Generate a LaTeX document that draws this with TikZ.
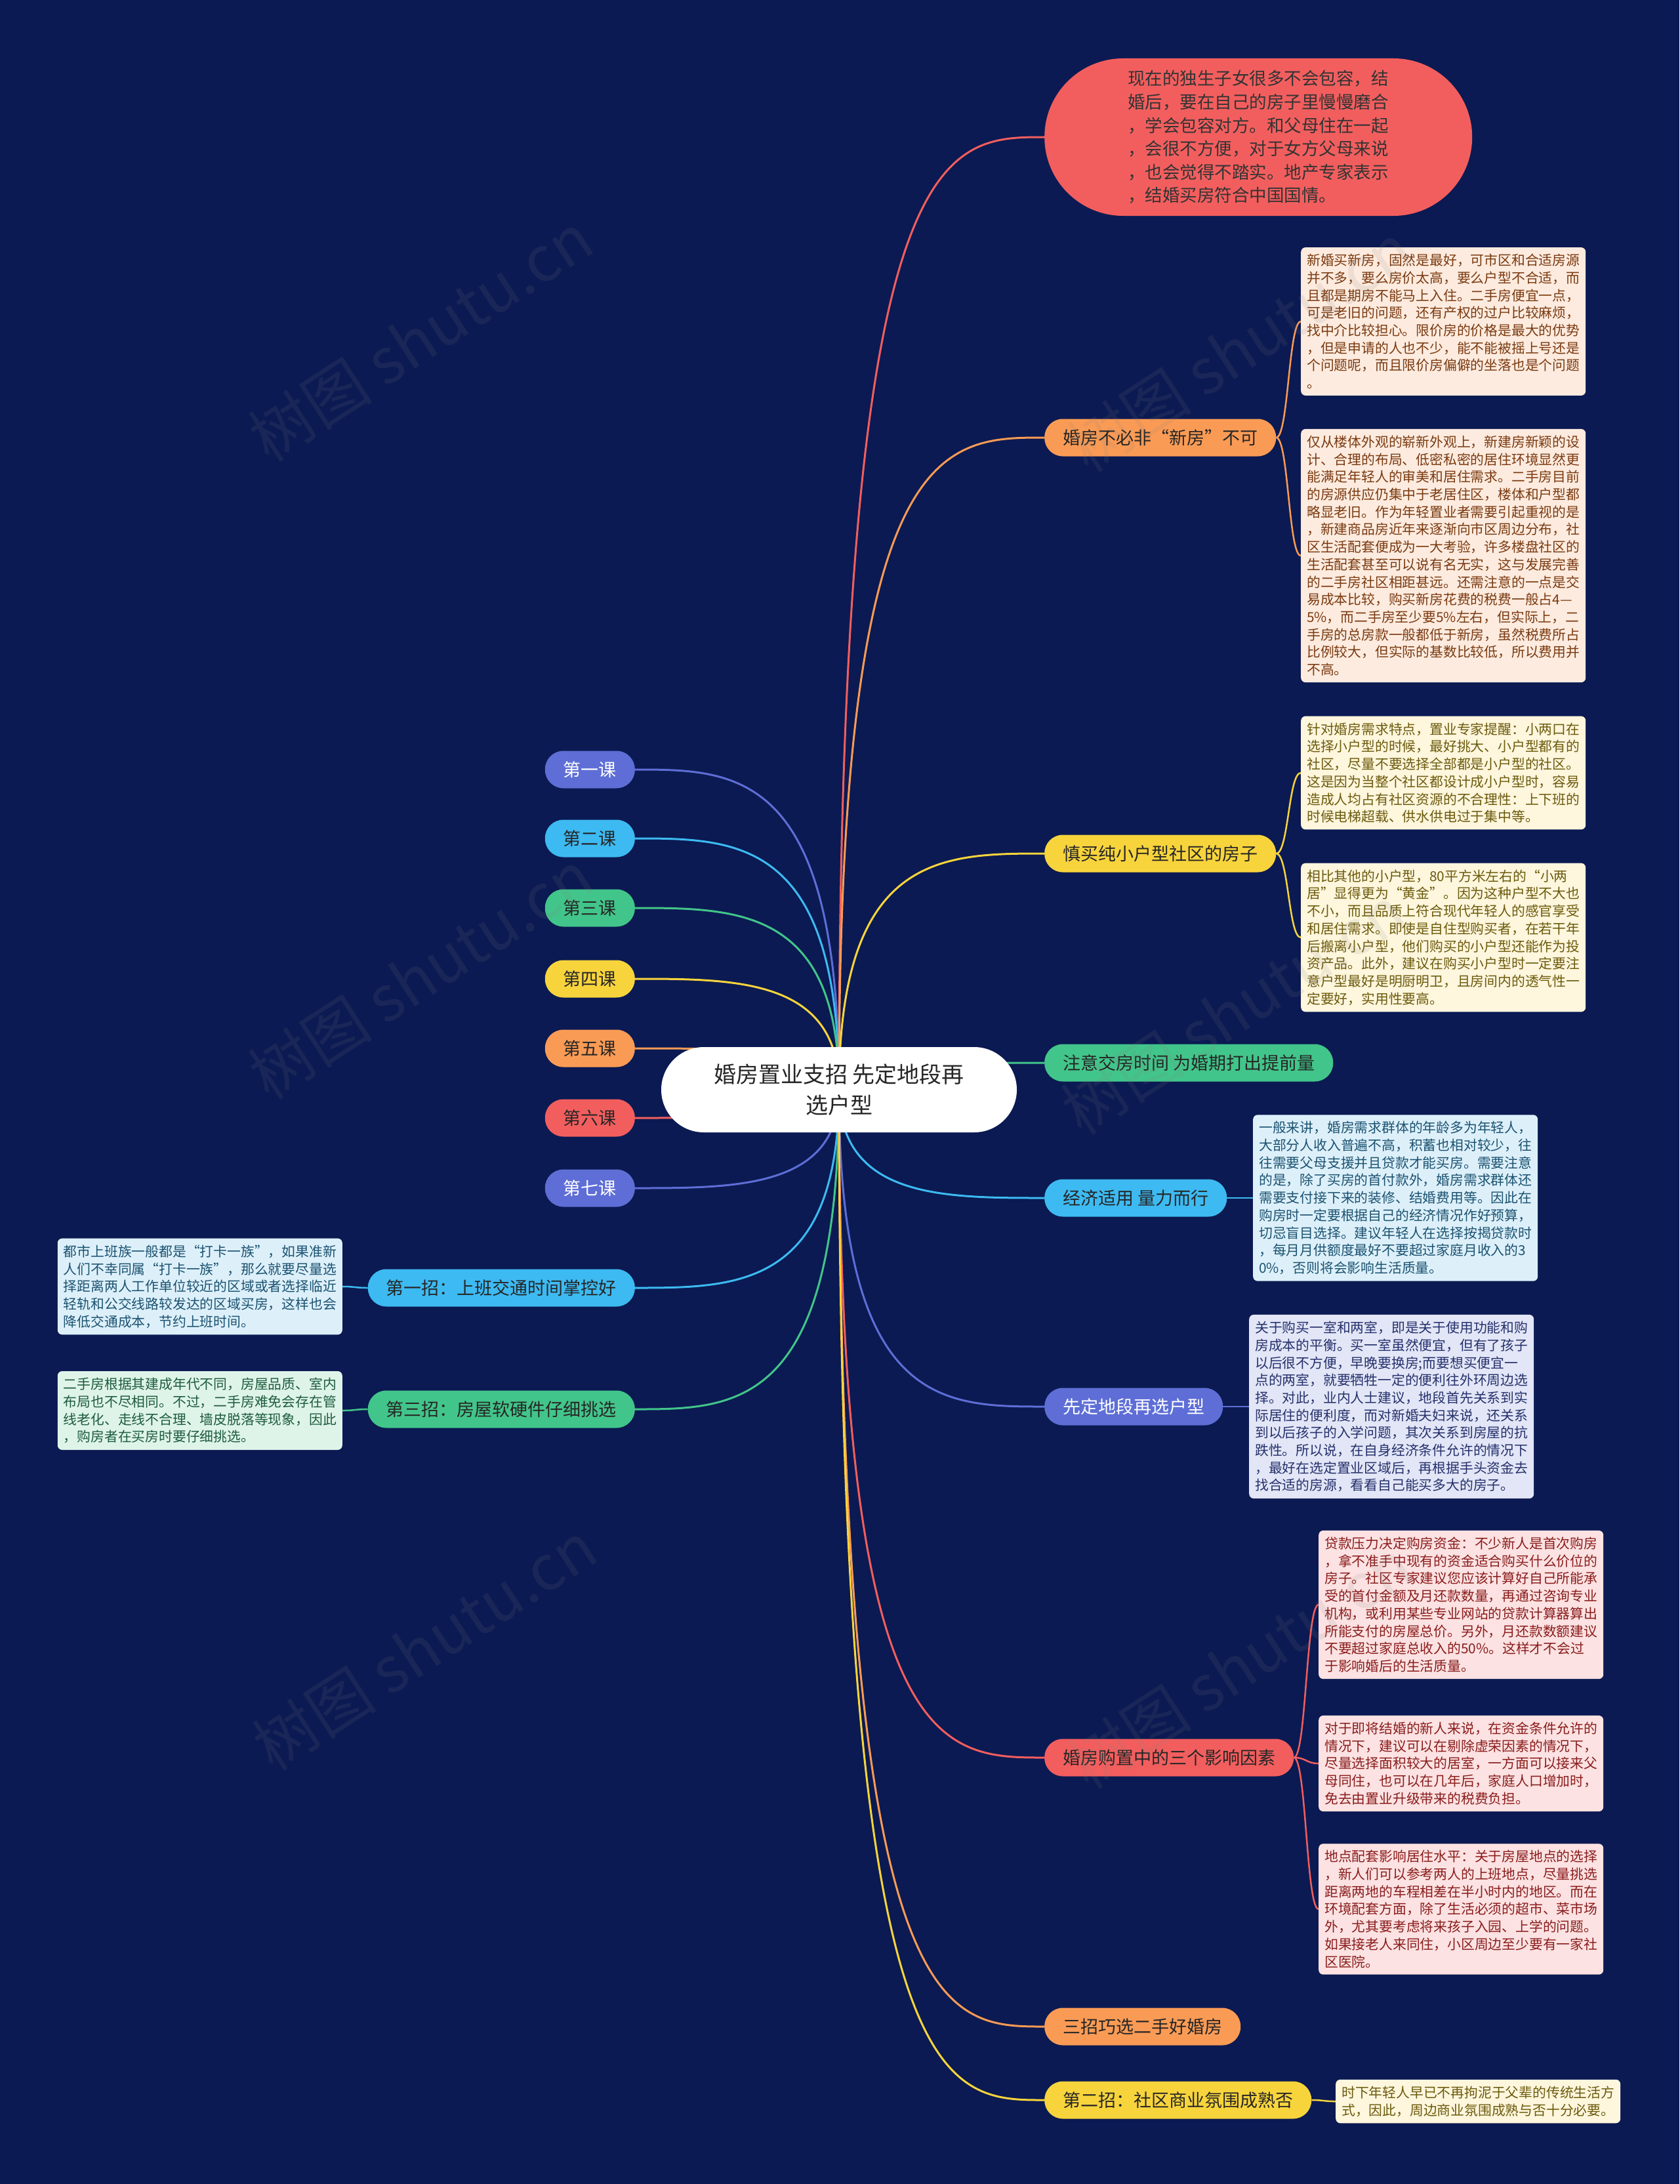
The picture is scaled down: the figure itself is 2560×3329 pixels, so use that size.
\documentclass[tikz,border=0pt]{standalone}
\usepackage{fontspec}
\setmainfont{Noto Sans CJK SC}
\usetikzlibrary{calc}
\pgfdeclarelayer{back}\pgfdeclarelayer{bg}\pgfdeclarelayer{top}
\pgfsetlayers{back,bg,main,top}
\newcommand\fsz[2]{\fontsize{#1pt}{#2pt}\selectfont}
\definecolor{bgc}{HTML}{0B1A52}
\definecolor{corange}{HTML}{FA9B55}
\definecolor{cyellow}{HTML}{F8D43C}
\definecolor{cgreen}{HTML}{42C58A}
\definecolor{ccyan}{HTML}{3DBAF2}
\definecolor{cblue}{HTML}{5E6ED6}
\definecolor{cred}{HTML}{F25E5E}
\definecolor{lorange}{HTML}{FDEBDF}\definecolor{torange}{HTML}{7A3A10}
\definecolor{lyellow}{HTML}{FEF6DD}\definecolor{tyellow}{HTML}{6B5A0C}
\definecolor{lcyan}{HTML}{DDF0FA}\definecolor{tcyan}{HTML}{1B5270}
\definecolor{lblue}{HTML}{E2E6F6}\definecolor{tblue}{HTML}{25306C}
\definecolor{lred}{HTML}{FCE2E2}\definecolor{tred}{HTML}{8A1C1C}
\definecolor{lgreen}{HTML}{DFF4E9}\definecolor{tgreen}{HTML}{1D5C3D}
\begin{document}
\begin{tikzpicture}[x=1pt,y=-1pt,
  pill/.style={rounded corners=28pt, minimum height=57pt, inner xsep=28pt, inner ysep=0pt, font=\fsz{27}{30}, text=black!85},
  leafbox/.style={rounded corners=7pt, inner xsep=9pt, inner ysep=10pt, text width=416pt, align=left, font=\fsz{20.8}{26.7}},
  conn/.style={line width=3pt, to path={.. controls (\tikztostart |- \tikztotarget) and ($(\tikztostart |- \tikztotarget)!0.5!(\tikztotarget)$) .. (\tikztotarget) \tikztonodes}},
  sconn/.style={line width=2.5pt, to path={.. controls ($(\tikztostart)!0.5!(\tikztotarget |- \tikztostart)$) and ($(\tikztotarget)!0.5!(\tikztostart |- \tikztotarget)$) .. (\tikztotarget) \tikztonodes}},
  wm/.style={rotate=33, font=\fsz{95}{95}, text=gray, opacity=0.12}
]
\begin{pgfonlayer}{back}
\fill[bgc] (0,0) rectangle (2560,3329);
\end{pgfonlayer}
\useasboundingbox (0,0) rectangle (2560,3329);

% center
\node[fill=white, rounded corners=65pt, minimum width=542pt, minimum height=130pt, font=\fsz{34}{47}, align=center, text=black!85] (c) at (1279,1661) {婚房置业支招 先定地段再\\选户型};

% top red
\node[fill=cred, rounded corners=120pt, minimum width=652pt, minimum height=240pt, anchor=west, font=\fsz{26.5}{35.6}, align=left, text=black!80] (tp) at (1592,209) {现在的独生子女很多不会包容，结\\婚后，要在自己的房子里慢慢磨合\\，学会包容对方。和父母住在一起\\，会很不方便，对于女方父母来说\\，也会觉得不踏实。地产专家表示\\，结婚买房符合中国国情。};

% lessons
\node[pill, fill=cblue, text=white, anchor=east] (l1) at (968,1173) {第一课};
\node[pill, fill=ccyan, anchor=east] (l2) at (968,1278) {第二课};
\node[pill, fill=cgreen, anchor=east] (l3) at (968,1384) {第三课};
\node[pill, fill=cyellow, anchor=east] (l4) at (968,1492) {第四课};
\node[pill, fill=corange, anchor=east] (l5) at (968,1598) {第五课};
\node[pill, fill=cred, anchor=east] (l6) at (968,1704) {第六课};
\node[pill, fill=cblue, text=white, anchor=east] (l7) at (968,1811) {第七课};

% left branches
\node[pill, fill=ccyan, anchor=east] (z1) at (968,1963) {第一招：上班交通时间掌控好};
\node[pill, fill=cgreen, anchor=east] (z3) at (968,2148) {第三招：房屋软硬件仔细挑选};
\node[leafbox, fill=lcyan, text=tcyan, anchor=east] (z1a) at (522,1961) {都市上班族一般都是“打卡一族”，如果准新\\人们不幸同属“打卡一族”，那么就要尽量选\\择距离两人工作单位较近的区域或者选择临近\\轻轨和公交线路较发达的区域买房，这样也会\\降低交通成本，节约上班时间。};
\node[leafbox, fill=lgreen, text=tgreen, anchor=east] (z3a) at (522,2150) {二手房根据其建成年代不同，房屋品质、室内\\布局也不尽相同。不过，二手房难免会存在管\\线老化、走线不合理、墙皮脱落等现象，因此\\，购房者在买房时要仔细挑选。};

% right branches
\node[pill, fill=corange, anchor=west] (b1) at (1592,667) {婚房不必非“新房”不可};
\node[pill, fill=cyellow, anchor=west] (b2) at (1592,1301) {慎买纯小户型社区的房子};
\node[pill, fill=cgreen, anchor=west] (b3) at (1592,1620) {注意交房时间 为婚期打出提前量};
\node[pill, fill=ccyan, anchor=west] (b4) at (1592,1826) {经济适用 量力而行};
\node[pill, fill=cblue, text=white, anchor=west] (b5) at (1592,2144) {先定地段再选户型};
\node[pill, fill=cred, anchor=west] (b6) at (1592,2679) {婚房购置中的三个影响因素};
\node[pill, fill=corange, anchor=west] (b7) at (1592,3089) {三招巧选二手好婚房};
\node[pill, fill=cyellow, anchor=west] (b8) at (1592,3201) {第二招：社区商业氛围成熟否};

% leaves
\node[leafbox, fill=lorange, text=torange, anchor=west] (a1) at (1983,490) {新婚买新房，固然是最好，可市区和合适房源\\并不多，要么房价太高，要么户型不合适，而\\且都是期房不能马上入住。二手房便宜一点，\\可是老旧的问题，还有产权的过户比较麻烦，\\找中介比较担心。限价房的价格是最大的优势\\，但是申请的人也不少，能不能被摇上号还是\\个问题呢，而且限价房偏僻的坐落也是个问题\\。};
\node[leafbox, fill=lorange, text=torange, anchor=west] (a2) at (1983,847) {仅从楼体外观的崭新外观上，新建房新颖的设\\计、合理的布局、低密私密的居住环境显然更\\能满足年轻人的审美和居住需求。二手房目前\\的房源供应仍集中于老居住区，楼体和户型都\\略显老旧。作为年轻置业者需要引起重视的是\\，新建商品房近年来逐渐向市区周边分布，社\\区生活配套便成为一大考验，许多楼盘社区的\\生活配套甚至可以说有名无实，这与发展完善\\的二手房社区相距甚远。还需注意的一点是交\\易成本比较，购买新房花费的税费一般占4—\\5\%，而二手房至少要5\%左右，但实际上，二\\手房的总房款一般都低于新房，虽然税费所占\\比例较大，但实际的基数比较低，所以费用并\\不高。};
\node[leafbox, fill=lyellow, text=tyellow, anchor=west] (y1) at (1983,1178) {针对婚房需求特点，置业专家提醒：小两口在\\选择小户型的时候，最好挑大、小户型都有的\\社区，尽量不要选择全部都是小户型的社区。\\这是因为当整个社区都设计成小户型时，容易\\造成人均占有社区资源的不合理性：上下班的\\时候电梯超载、供水供电过于集中等。};
\node[leafbox, fill=lyellow, text=tyellow, anchor=west] (y2) at (1983,1429) {相比其他的小户型，80平方米左右的“小两\\居”显得更为“黄金”。因为这种户型不大也\\不小，而且品质上符合现代年轻人的感官享受\\和居住需求。即使是自住型购买者，在若干年\\后搬离小户型，他们购买的小户型还能作为投\\资产品。此外，建议在购买小户型时一定要注\\意户型最好是明厨明卫，且房间内的透气性一\\定要好，实用性要高。};
\node[leafbox, fill=lcyan, text=tcyan, anchor=west] (cy) at (1910,1826) {一般来讲，婚房需求群体的年龄多为年轻人，\\大部分人收入普遍不高，积蓄也相对较少，往\\往需要父母支援并且贷款才能买房。需要注意\\的是，除了买房的首付款外，婚房需求群体还\\需要支付接下来的装修、结婚费用等。因此在\\购房时一定要根据自己的经济情况作好预算，\\切忌盲目选择。建议年轻人在选择按揭贷款时\\，每月月供额度最好不要超过家庭月收入的3\\0\%，否则将会影响生活质量。};
\node[leafbox, fill=lblue, text=tblue, anchor=west] (bl) at (1904,2144) {关于购买一室和两室，即是关于使用功能和购\\房成本的平衡。买一室虽然便宜，但有了孩子\\以后很不方便，早晚要换房;而要想买便宜一\\点的两室，就要牺牲一定的便利往外环周边选\\择。对此，业内人士建议，地段首先关系到实\\际居住的便利度，而对新婚夫妇来说，还关系\\到以后孩子的入学问题，其次关系到房屋的抗\\跌性。所以说，在自身经济条件允许的情况下\\，最好在选定置业区域后，再根据手头资金去\\找合适的房源，看看自己能买多大的房子。};
\node[leafbox, fill=lred, text=tred, anchor=west] (r1) at (2010,2446) {贷款压力决定购房资金：不少新人是首次购房\\，拿不准手中现有的资金适合购买什么价位的\\房子。社区专家建议您应该计算好自己所能承\\受的首付金额及月还款数量，再通过咨询专业\\机构，或利用某些专业网站的贷款计算器算出\\所能支付的房屋总价。另外，月还款数额建议\\不要超过家庭总收入的50\%。这样才不会过\\于影响婚后的生活质量。};
\node[leafbox, fill=lred, text=tred, anchor=west] (r2) at (2010,2688) {对于即将结婚的新人来说，在资金条件允许的\\情况下，建议可以在剔除虚荣因素的情况下，\\尽量选择面积较大的居室，一方面可以接来父\\母同住，也可以在几年后，家庭人口增加时，\\免去由置业升级带来的税费负担。};
\node[leafbox, fill=lred, text=tred, anchor=west] (r3) at (2010,2910) {地点配套影响居住水平：关于房屋地点的选择\\，新人们可以参考两人的上班地点，尽量挑选\\距离两地的车程相差在半小时内的地区。而在\\环境配套方面，除了生活必须的超市、菜市场\\外，尤其要考虑将来孩子入园、上学的问题。\\如果接老人来同住，小区周边至少要有一家社\\区医院。};
\node[leafbox, fill=lyellow, text=tyellow, anchor=west] (f1) at (2036,3203) {时下年轻人早已不再拘泥于父辈的传统生活方\\式，因此，周边商业氛围成熟与否十分必要。};

\begin{pgfonlayer}{bg}
\draw[conn, draw=cred] (c.center) to (tp.west);
\draw[conn, draw=cblue] (c.center) to (l1.east);
\draw[conn, draw=ccyan] (c.center) to (l2.east);
\draw[conn, draw=cgreen] (c.center) to (l3.east);
\draw[conn, draw=cyellow] (c.center) to (l4.east);
\draw[conn, draw=corange] (c.center) to (l5.east);
\draw[conn, draw=cred] (c.center) to (l6.east);
\draw[conn, draw=cblue] (c.center) to (l7.east);
\draw[conn, draw=ccyan] (c.center) to (z1.east);
\draw[conn, draw=cgreen] (c.center) to (z3.east);
\draw[conn, draw=corange] (c.center) to (b1.west);
\draw[conn, draw=cyellow] (c.center) to (b2.west);
\draw[conn, draw=cgreen] (c.center) to (b3.west);
\draw[conn, draw=ccyan] (c.center) to (b4.west);
\draw[conn, draw=cblue] (c.center) to (b5.west);
\draw[conn, draw=cred] (c.center) to (b6.west);
\draw[conn, draw=corange] (c.center) to (b7.west);
\draw[conn, draw=cyellow] (c.center) to (b8.west);
\draw[sconn, draw=ccyan] (z1.west) to (z1a.east);
\draw[sconn, draw=cgreen] (z3.west) to (z3a.east);
\draw[sconn, draw=corange] (b1.east) to (a1.west);
\draw[sconn, draw=corange] (b1.east) to (a2.west);
\draw[sconn, draw=cyellow] (b2.east) to (y1.west);
\draw[sconn, draw=cyellow] (b2.east) to (y2.west);
\draw[sconn, draw=ccyan] (b4.east) to (cy.west);
\draw[sconn, draw=cblue] (b5.east) to (bl.west);
\draw[sconn, draw=cred] (b6.east) to (r1.west);
\draw[sconn, draw=cred] (b6.east) to (r2.west);
\draw[sconn, draw=cred] (b6.east) to (r3.west);
\draw[sconn, draw=cyellow] (b8.east) to (f1.west);
\end{pgfonlayer}

\begin{pgfonlayer}{top}
\node[wm] (w1) at (641,514) {树图 shutu.cn};
\node[wm] (w2) at (1890,530) {树图 shutu.cn};
\node[wm] (w3) at (641,1486) {树图 shutu.cn};
\node[wm] (w4) at (1880,1540) {树图 shutu.cn};
\node[wm] (w5) at (647,2509) {树图 shutu.cn};
\node[wm] (w6) at (1890,2537) {树图 shutu.cn};
\end{pgfonlayer}
\end{tikzpicture}
\end{document}
